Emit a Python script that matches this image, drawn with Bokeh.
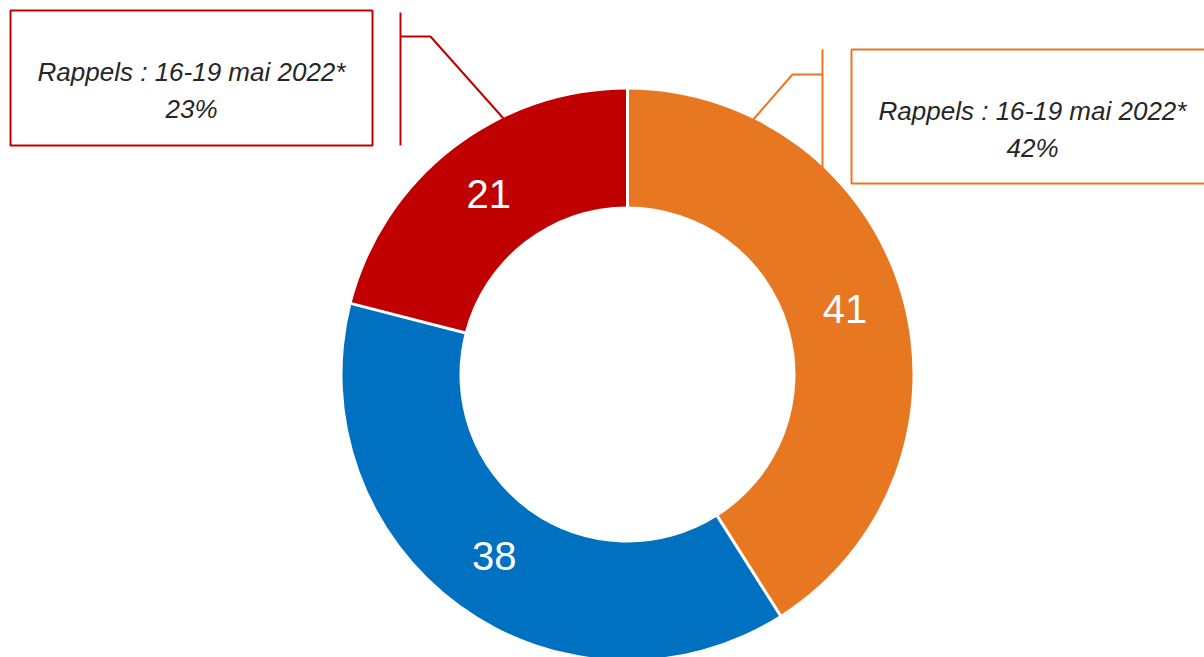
import numpy as np
from bokeh.plotting import figure
from bokeh.models import Range1d, ColumnDataSource
from bokeh.embed import file_html
from bokeh.resources import INLINE
from bokeh.core.properties import value

# ---- data ----
slice_names = ["Orange", "Bleu", "Rouge"]
slice_values = [41, 38, 21]
slice_colors = ["#E87722", "#0070C0", "#C00000"]
callout_line1 = ["Rappels : 16-19 mai 2022*", "Rappels : 16-19 mai 2022*"]
callout_line2 = ["23%", "42%"]
callout_colors = ["#C00000", "#E87722"]

# ---- layout (page pixels -> data coords; y flipped) ----
W, H = 1204, 657
def Y(py):
    return H - py

CX, CY = 627, Y(374)
R_OUT, R_IN = 285, 168

p = figure(width=W, height=H, output_backend="svg", toolbar_location=None,
           x_range=Range1d(0, W), y_range=Range1d(0, H),
           x_axis_type=None, y_axis_type=None, min_border=0)
p.grid.visible = False
p.outline_line_color = None
p.background_fill_color = "white"

# ---- callout leader lines (drawn under the donut) ----
# left (red)
p.line([400, 400], [Y(12), Y(145)], line_color=callout_colors[0], line_width=2)
p.line([400, 430, 503], [Y(36), Y(36), Y(118)], line_color=callout_colors[0], line_width=2)
# right (orange)
p.line([822, 822], [Y(49), Y(190)], line_color=callout_colors[1], line_width=2)
p.line([822, 792, 752], [Y(74), Y(74), Y(120)], line_color=callout_colors[1], line_width=2)

# ---- donut ----
vals = np.array(slice_values, dtype=float)
frac = vals / vals.sum()
cum_end = np.cumsum(frac)
cum_start = cum_end - frac
start_ang = np.pi / 2 - 2 * np.pi * cum_start
end_ang = np.pi / 2 - 2 * np.pi * cum_end
src = ColumnDataSource(dict(start=start_ang, end=end_ang, color=slice_colors,
                            name=slice_names))
p.annular_wedge(x=CX, y=CY, inner_radius=R_IN, outer_radius=R_OUT,
                start_angle="start", end_angle="end", direction="clock",
                fill_color="color", line_color=None, source=src)

# white separators at slice boundaries
for a in start_ang:
    p.line([CX + (R_IN - 2) * np.cos(a), CX + (R_OUT + 2) * np.cos(a)],
           [CY + (R_IN - 2) * np.sin(a), CY + (R_OUT + 2) * np.sin(a)],
           line_color="white", line_width=3)

# value labels
mid = (start_ang + end_ang) / 2
rm = (R_IN + R_OUT) / 2
p.text(x=CX + rm * np.cos(mid), y=CY + rm * np.sin(mid) + 2,
       text=[str(v) for v in slice_values],
       text_align="center", text_baseline="middle", text_color="white",
       text_font=value("Liberation Sans"), text_font_size="40px")

# ---- callout boxes ----
p.quad(left=[10, 851], right=[372, 1215], top=[Y(10), Y(49)], bottom=[Y(145), Y(183)],
       fill_color="white", line_color=callout_colors, line_width=2)
tx = [191, 1032]
p.text(x=tx, y=[Y(71), Y(110)], text=callout_line1, text_align="center",
       text_baseline="alphabetic", text_color="#262626", text_font_style="italic",
       text_font=value("Liberation Sans"), text_font_size="26px")
p.text(x=tx, y=[Y(108), Y(147)], text=callout_line2, text_align="center",
       text_baseline="alphabetic", text_color="#262626", text_font_style="italic",
       text_font=value("Liberation Sans"), text_font_size="26px")

open("out.html", "w").write(file_html(p, INLINE))
